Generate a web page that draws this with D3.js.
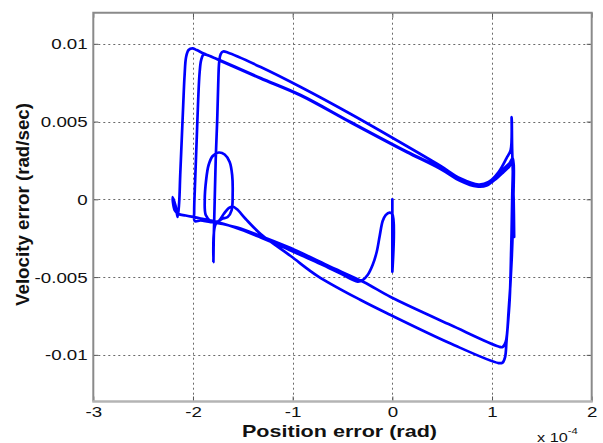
<!DOCTYPE html>
<html>
<head>
<meta charset="utf-8">
<script src="https://cdn.jsdelivr.net/npm/d3@7"></script>
<style>
  html, body { margin: 0; padding: 0; background: #fff; }
  svg { display: block; }
  text { font-family: "Liberation Sans", Arial, sans-serif; fill: #111; }
</style>
</head>
<body>
<svg id="chart" width="603" height="443"></svg>
<script>
// Phase-plane trajectory: position error (x 1e-4 rad) vs velocity error (rad/sec)
const posErr = [
  0.000, 0.000, 0.000, -0.027, -0.067, -0.097, -0.127, -0.157, -0.198, -0.248, -0.298, -0.348,
  -0.519, -0.719, -0.920, -1.120, -1.321, -1.522, -1.722, -1.923, -2.073, -2.144,
  -2.184, -2.204, -2.174, -2.154, -2.139, -2.128, -2.113, -2.098, -2.084, -2.069, -2.044, -2.006, -1.963,
  -1.893, -1.722, -1.321, -0.920, -0.418, 0.143, 0.484, 0.685, 0.825, 0.926, 1.026, 1.116, 1.177, 1.202,
  1.202, 1.192, 1.177, 1.146, 1.131, 1.106, 1.066,
  0.585, -0.017, -0.318, -0.749, -1.020, -1.321, -1.471, -1.561, -1.602, -1.642, -1.692, -1.742, -1.822, -1.923, -1.983,
  -1.988, -1.978, -1.963, -1.948, -1.933, -1.918, -1.893, -1.843,
  -1.722, -1.321, -0.920, -0.418, 0.143, 0.484, 0.685, 0.846, 0.946, 1.046, 1.126, 1.177, 1.207,
  1.212, 1.197, 1.167, 1.137, 1.106, 1.066,
  0.585, -0.017, -0.288, -0.649, -1.020, -1.321, -1.522, -1.702, -1.822, -1.872,
  -1.882, -1.868, -1.843, -1.802, -1.742, -1.682, -1.632, -1.607, -1.602, -1.612, -1.652, -1.712, -1.772, -1.792, -1.795,
  -1.792, -1.782, -1.772, -1.757, -1.747, -1.737, -1.722, -1.697, -1.652,
  -1.321, -0.920, -0.418, 0.143, 0.484, 0.685, 0.866, 0.966, 1.066, 1.146, 1.187, 1.197, 1.202, 1.217, 1.222
];

const velErr = [
  0, -0.004656, -0.000945, -0.000849, -0.001010, -0.001396, -0.002360, -0.003389, -0.004225, -0.004868, -0.005190, -0.005286,
  -0.004772, -0.004161, -0.003582, -0.003003, -0.002457, -0.001942, -0.001524, -0.001235, -0.001042, -0.000945,
  -0.000688, 0.000148, -0.000431, -0.001138, -0.000238, 0.001563, 0.003814, 0.006064, 0.007994, 0.009151, 0.009601, 0.009711, 0.009601,
  0.009376, 0.008926, 0.007801, 0.006708, 0.004971, 0.003074, 0.002013, 0.001241, 0.000855, 0.000855, 0.001241, 0.001756, 0.002142, 0.002527,
  -0.000045, -0.003261, -0.006476, -0.009048, -0.010142, -0.010496, -0.010528,
  -0.009274, -0.007441, -0.006476, -0.004933, -0.003646, -0.002232, -0.001267, -0.000624, -0.000463, -0.000560, -0.000945, -0.001396, -0.001460, -0.001363, -0.001396,
  -0.000817, 0.001241, 0.003814, 0.006386, 0.008187, 0.008958, 0.009312, 0.009248,
  0.008894, 0.007769, 0.006675, 0.004939, 0.003042, 0.001949, 0.001177, 0.000823, 0.000887, 0.001434, 0.002013, 0.002334, 0.002656,
  -0.000688, -0.003904, -0.007119, -0.009177, -0.009499, -0.009466,
  -0.008084, -0.006283, -0.005318, -0.004257, -0.003132, -0.002360, -0.001878, -0.001588, -0.001396, -0.001010,
  -0.000045, 0.001241, 0.002206, 0.002785, 0.003010, 0.002881, 0.002399, 0.001563, 0.000277, -0.000688, -0.001138, -0.001267, -0.001588, -0.002296, -0.004032,
  -0.002617, -0.000045, 0.002527, 0.005100, 0.007351, 0.008830, 0.009344, 0.009505, 0.009441,
  0.008508, 0.007222, 0.005486, 0.003428, 0.002142, 0.001338, 0.000952, 0.001113, 0.001756, 0.002656, 0.003170, 0.005293, 0.003170, -0.000045, -0.002424
];

const xTicks = [-3, -2, -1, 0, 1, 2];
const xTickLabels = ["-3", "-2", "-1", "0", "1", "2"];
const yTicks = [-0.01, -0.005, 0, 0.005, 0.01];
const yTickLabels = ["-0.01", "-0.005", "0", "0.005", "0.01"];
const xDomain = [-3, 2];
const yDomain = [-0.013, 0.012];

const xTitle = "Position error (rad)";
const yTitle = "Velocity error (rad/sec)";

const plot = { left: 93.3, right: 591.7, top: 12.7, bottom: 401.5 };
const textStretch = 1.25;

const svg = d3.select("#chart");
const x = d3.scaleLinear().domain(xDomain).range([plot.left, plot.right]);
const y = d3.scaleLinear().domain(yDomain).range([plot.bottom, plot.top]);

// dotted grid
const grid = svg.append("g").attr("class", "grid")
  .attr("stroke", "#6a6a6a").attr("stroke-width", 1).attr("stroke-dasharray", "2,3");
grid.selectAll("line.v").data(xTicks.slice(1, -1)).join("line")
  .attr("class", "v")
  .attr("x1", d => Math.round(x(d)) + 0.5).attr("x2", d => Math.round(x(d)) + 0.5)
  .attr("y1", plot.top).attr("y2", plot.bottom);
grid.selectAll("line.h").data(yTicks).join("line")
  .attr("class", "h")
  .attr("x1", plot.left).attr("x2", plot.right)
  .attr("y1", d => Math.round(y(d)) + 0.5).attr("y2", d => Math.round(y(d)) + 0.5);

// trajectory
svg.append("clipPath").attr("id", "plotClip").append("rect")
  .attr("x", plot.left).attr("y", plot.top)
  .attr("width", plot.right - plot.left).attr("height", plot.bottom - plot.top);

const pts = posErr.map((p, i) => [p, velErr[i]]);
const line = d3.line()
  .x(d => x(d[0])).y(d => y(d[1]))
  .curve(d3.curveCatmullRom.alpha(0.5));
svg.append("path")
  .attr("clip-path", "url(#plotClip)")
  .attr("d", line(pts))
  .attr("fill", "none")
  .attr("stroke", "#0000ff")
  .attr("stroke-width", 2.7)
  .attr("stroke-linejoin", "round")
  .attr("stroke-linecap", "round");

// axes with inward ticks
function styleAxis(g) {
  g.select(".domain").remove();
  g.selectAll(".tick line").attr("stroke", "#555").attr("stroke-width", 1);
  g.selectAll(".tick text")
    .attr("font-size", 15)
    .attr("font-family", "'Liberation Sans', Arial, sans-serif")
    .attr("fill", "#111")
    .attr("transform", `scale(${textStretch},1)`);
}

svg.append("g")
  .attr("transform", `translate(0,${plot.bottom})`)
  .call(d3.axisBottom(x).tickValues(xTicks)
    .tickFormat((d, i) => xTickLabels[i])
    .tickSizeInner(-5).tickSizeOuter(0).tickPadding(5))
  .call(styleAxis);

svg.append("g")
  .attr("transform", `translate(${plot.left},0)`)
  .call(d3.axisLeft(y).tickValues(yTicks)
    .tickFormat((d, i) => yTickLabels[i])
    .tickSizeInner(-5).tickSizeOuter(0).tickPadding(4.5))
  .call(styleAxis)
  .call(g => g.selectAll(".tick text").attr("dy", "0.34em"));

svg.append("g")
  .attr("transform", `translate(0,${plot.top})`)
  .call(d3.axisTop(x).tickValues(xTicks).tickFormat("").tickSizeInner(-5).tickSizeOuter(0))
  .call(styleAxis);

svg.append("g")
  .attr("transform", `translate(${plot.right},0)`)
  .call(d3.axisRight(y).tickValues(yTicks).tickFormat("").tickSizeInner(-5).tickSizeOuter(0))
  .call(styleAxis);

// frame
svg.append("path")
  .attr("d", `M${plot.left},${plot.bottom}V${plot.top}H${plot.right}V${plot.bottom}`)
  .attr("fill", "none").attr("stroke", "#8a8a8a").attr("stroke-width", 2);
svg.append("line")
  .attr("x1", plot.left - 1).attr("x2", plot.right + 1)
  .attr("y1", plot.bottom).attr("y2", plot.bottom)
  .attr("stroke", "#b4b4b4").attr("stroke-width", 2.5);

// titles
svg.append("text")
  .attr("x", 339.5).attr("y", 437)
  .attr("text-anchor", "middle")
  .attr("font-size", 17).attr("font-weight", "bold")
  .attr("textLength", 195).attr("lengthAdjust", "spacingAndGlyphs")
  .text(xTitle);

svg.append("text")
  .attr("transform", "translate(29,204.5) rotate(-90)")
  .attr("text-anchor", "middle")
  .attr("font-size", 18).attr("font-weight", "bold")
  .attr("textLength", 203).attr("lengthAdjust", "spacingAndGlyphs")
  .text(yTitle);

// exponent note for the position axis
const expo = svg.append("text")
  .attr("transform", `translate(537,441.5) scale(${textStretch},1)`)
  .attr("font-size", 13);
expo.append("tspan").text("x 10");
expo.append("tspan").attr("dy", -8).attr("font-size", 9).text("-4");
</script>
</body>
</html>
